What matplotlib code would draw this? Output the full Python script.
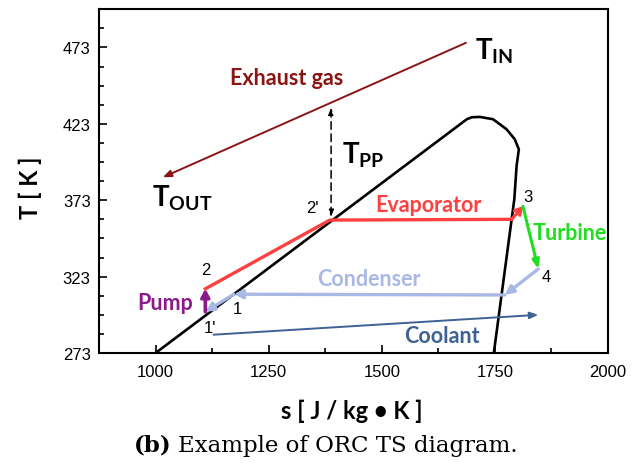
import matplotlib
matplotlib.use("Agg")
import matplotlib.pyplot as plt

plt.rcParams['font.family'] = ['Liberation Sans', 'DejaVu Sans']
plt.rcParams['mathtext.fontset'] = 'custom'
plt.rcParams['mathtext.rm'] = 'Lato'
plt.rcParams['mathtext.bf'] = 'Lato:bold'
plt.rcParams['mathtext.it'] = 'Lato:italic'

# saturation dome
dome_s = [1000, 1688, 1699, 1717, 1746, 1776, 1794, 1803, 1798, 1793, 1748]
dome_T = [273, 426, 427.3, 427.5, 426, 419.4, 412.9, 406.3, 395.4, 373.7, 273.7]

# cycle state points (s, T)
p1p = (1110, 300)    # 1'
p2 = (1110, 315)     # 2
p2p = (1385, 360)    # 2'
p_evap = (1787, 360.5)
p3 = (1812, 369)
p4 = (1846, 328)
p_cond = (1772, 311)
p1 = (1173, 311.5)

exhaust_in = (1686, 476)
exhaust_out = (1016, 388)
coolant_start = (1128, 285)
coolant_end = (1846, 298)
tpp_s = 1388
tpp_T = (433.6, 362)

xticks = [1000, 1250, 1500, 1750, 2000]
yticks = [273, 323, 373, 423, 473]

c_gas = '#8b1414'
c_evap = '#ff4040'
c_turb = '#22dd22'
c_cond = '#a9b8e4'
c_cool = '#3e6292'
c_pump = '#8b1a8b'

fig = plt.figure(figsize=(6.42, 4.64), dpi=100)
ax = fig.add_axes([0.1542, 0.237, 0.7928, 0.741])

ax.plot(dome_s, dome_T, color='black', lw=1.9, solid_capstyle='round')


def arrow(a, b, color, lw=1.6, style='-|>', hl=0.5, hw=0.25):
    ax.annotate('', xy=b, xytext=a,
                arrowprops=dict(arrowstyle=f'{style},head_length={hl},head_width={hw}',
                                color=color, lw=lw, shrinkA=0, shrinkB=0))


# evaporator
ax.plot([p2[0], p2p[0], p_evap[0]], [p2[1], p2p[1], p_evap[1]], color=c_evap, lw=2.4)
arrow(p_evap, p3, c_evap, lw=2.4, style='->', hl=0.4, hw=0.25)
# turbine
arrow(p3, p4, c_turb, lw=2.2, style='-|>', hl=0.5, hw=0.2)
# condenser
arrow(p4, p_cond, c_cond, lw=2.4, style='-|>', hl=0.5, hw=0.25)
arrow(p_cond, p1, c_cond, lw=2.4, style='-|>', hl=0.5, hw=0.25)
arrow(p1, p1p, c_cond, lw=2.4, style='-|>', hl=0.5, hw=0.25)
# pump
arrow(p1p, p2, c_pump, lw=2.6, style='-|>', hl=0.45, hw=0.25)
# exhaust gas and coolant
arrow(exhaust_in, exhaust_out, c_gas, lw=1.4, style='-|>', hl=0.5, hw=0.2)
arrow(coolant_start, coolant_end, c_cool, lw=1.4, style='-|>', hl=0.5, hw=0.2)
# pinch point
ax.annotate('', xy=(tpp_s, tpp_T[0]), xytext=(tpp_s, tpp_T[1]),
            arrowprops=dict(arrowstyle='<|-|>,head_length=0.4,head_width=0.15',
                            color='black', lw=1.1, linestyle=(0, (5, 3)),
                            shrinkA=0, shrinkB=0))

lab = dict(fontfamily='Lato', fontweight='bold', fontsize=15.5, ha='center', va='center')
ax.text(1290, 453.5, 'Exhaust gas', color=c_gas, **lab)
ax.text(1604, 370.5, 'Evaporator', color=c_evap, **lab)
ax.text(1916, 352, 'Turbine', color=c_turb, **lab)
ax.text(1472, 321.5, 'Condenser', color=c_cond, **lab)
ax.text(1634, 284.3, 'Coolant', color=c_cool, **lab)
ax.text(1022, 306, 'Pump', color=c_pump, **lab)

big = dict(fontsize=20, ha='left', va='center')
ax.text(1707, 471, r'$\mathbf{T}_{\mathbf{IN}}$', **big)
ax.text(992, 375, r'$\mathbf{T}_{\mathbf{OUT}}$', **big)
ax.text(1412, 403, r'$\mathbf{T}_{\mathbf{PP}}$', **big)

num = dict(fontsize=12, ha='center', va='center')
ax.text(1111, 327.5, '2', **num)
ax.text(1346, 368.5, "2'", **num)
ax.text(1823, 375.5, '3', **num)
ax.text(1864, 323, '4', **num)
ax.text(1181, 302, '1', **num)
ax.text(1120, 290, "1'", **num)

ax.set_xlim(875, 2000)
ax.set_ylim(273, 498)
ax.set_xticks(xticks)
ax.set_yticks(yticks)
ax.set_xticks([1125, 1375, 1625, 1875], minor=True)
ax.set_yticks([285.5, 298, 310.5, 335.5, 348, 360.5, 385.5, 398, 410.5, 435.5,
               448, 460.5, 485.5], minor=True)
ax.tick_params(which='both', direction='in', top=False, right=False, labelsize=12)
ax.tick_params(which='major', length=6, width=1.2)
ax.tick_params(which='minor', length=3.5, width=1.2)
ax.tick_params(axis='x', pad=8)
ax.tick_params(axis='y', pad=6)
for sp in ax.spines.values():
    sp.set_linewidth(1.5)

fig.text(30 / 642, 1 - 188 / 464, 'T [ K ]', rotation=90, fontfamily='Lato',
         fontweight='bold', fontsize=17, ha='center', va='center')
fig.text(352 / 642, 1 - 411 / 464, 's [ J / kg • K ]', fontfamily='Lato',
         fontweight='bold', fontsize=17, ha='center', va='center')

fig.text(172 / 642, 1 - 446 / 464, '(b)', fontfamily='DejaVu Serif',
         fontweight='bold', fontsize=16.5, ha='right', va='center')
fig.text(178 / 642, 1 - 446 / 464, 'Example of ORC TS diagram.',
         fontfamily='DejaVu Serif', fontsize=16.5, ha='left', va='center')

fig.savefig('out.png', dpi=100)
